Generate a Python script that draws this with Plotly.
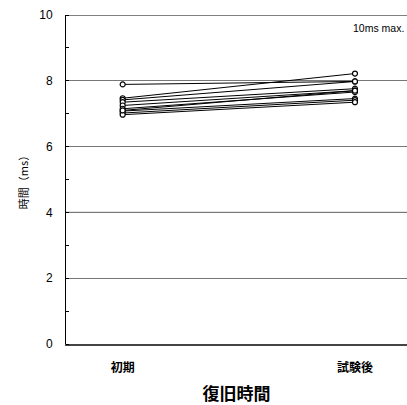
import plotly.graph_objects as go

categories = ["初期", "試験後"]
initial = [7.89, 7.47, 7.42, 7.35, 7.25, 7.15, 7.08, 7.02, 6.97, 7.10]
after = [7.98, 8.22, 7.98, 7.76, 7.70, 7.66, 7.46, 7.41, 7.35, 7.70]
y_ticks = [0, 2, 4, 6, 8, 10]

FONT = "Liberation Sans, Arial, Noto Sans CJK JP"

fig = go.Figure()
for a, b in zip(initial, after):
    fig.add_trace(go.Scatter(
        x=[0, 1], y=[a, b], mode="lines+markers",
        line=dict(color="black", width=1),
        marker=dict(symbol="circle", size=5, color="white",
                    line=dict(color="black", width=1.2)),
        showlegend=False, hoverinfo="skip"))

for yv in (4, 10):
    fig.add_shape(type="line", xref="paper", yref="y", x0=0, x1=1, y0=yv, y1=yv,
                  line=dict(color="black", width=1), layer="below")

fig.add_annotation(text="10ms max.", xref="paper", yref="paper", x=0.997, y=0.962,
                   xanchor="right", yanchor="middle", showarrow=False,
                   font=dict(size=10.5, color="black", family=FONT))

fig.update_layout(
    width=407, height=405,
    margin=dict(l=66, r=0, t=15, b=61),
    paper_bgcolor="white", plot_bgcolor="white",
    font=dict(family=FONT, color="black"),
    xaxis=dict(range=[-0.244, 1.224], tickvals=[0, 1], ticktext=["<b>%s</b>" % c for c in categories],
               showgrid=False, zeroline=False, showline=True, linecolor="#444",
               linewidth=1.5, ticks="", ticklabelstandoff=12,
               tickfont=dict(size=12, family="Noto Sans CJK JP"),
               title=dict(text="<b>復旧時間</b>", font=dict(size=17, family="Noto Sans CJK JP"), standoff=14)),
    yaxis=dict(range=[0, 10], tickvals=y_ticks, showgrid=True, gridcolor="#777",
               gridwidth=1, zeroline=False, showline=True, linecolor="black", linewidth=1,
               ticks="", ticklabelstandoff=10, tickfont=dict(size=12),
               minor=dict(dtick=1, ticks="inside", ticklen=3, tickcolor="black", showgrid=False),
               title=dict(text="時間（ms）", font=dict(size=11, family="Noto Sans CJK JP"), standoff=8)),
)

fig.write_html("out.html", post_script="document.body.style.margin='0';",
               config={"displayModeBar": False})
